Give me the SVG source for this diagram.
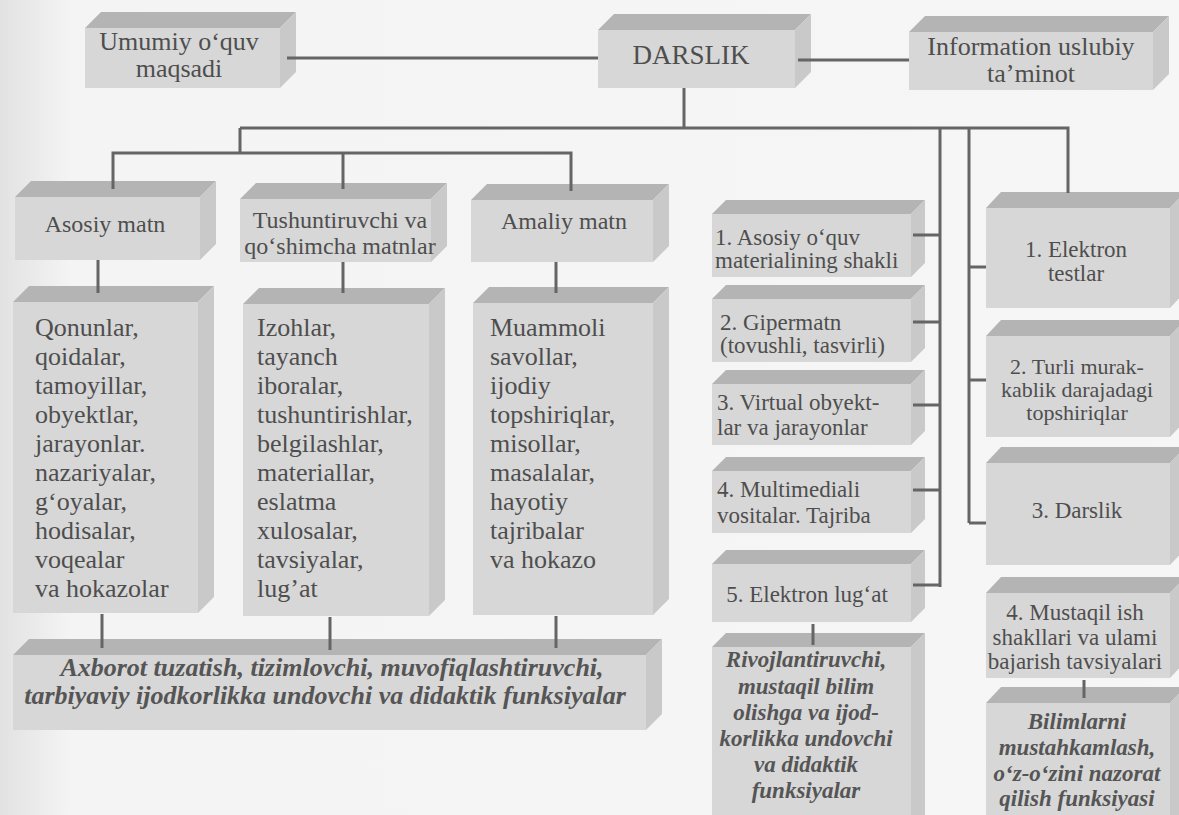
<svg xmlns="http://www.w3.org/2000/svg" width="1179" height="815" viewBox="0 0 1179 815">
<defs>
<linearGradient id="bg" x1="0" y1="0" x2="1" y2="0">
<stop offset="0" stop-color="#e2e2e2"/>
<stop offset="0.06" stop-color="#f4f4f4"/>
<stop offset="1" stop-color="#f6f6f6"/>
</linearGradient>
<style>
.front{fill:#d7d7d7}
.top{fill:#b4b4b4}
.side{fill:#c9c9c9}
.conn{stroke:#656565;stroke-width:3;fill:none;stroke-linecap:butt}
.t{fill:#4e4e4e}
.c{text-anchor:middle}
.s27{font-size:27px}
.s26{font-size:26px}
.s24{font-size:24px}
.s23{font-size:23px}
.s22{font-size:22px}
.bi{font-weight:bold;font-style:italic;fill:#555}
</style>
</defs>
<rect width="1179" height="815" fill="url(#bg)"/>

<g font-family="'Liberation Serif', 'DejaVu Serif', 'Times New Roman', serif">

<g id="umumiy">
<rect class="front" x="85" y="28" width="195" height="60"/>
<polygon class="top" points="85,28 101,12 296,12 280,28"/>
<polygon class="side" points="280,28 296,12 296,72 280,88"/>
<text class="t s26 c" x="179" y="50">Umumiy o‘quv</text>
<text class="t s26 c" x="179" y="77">maqsadi</text>
</g>

<g id="darslik">
<rect class="front" x="598" y="30" width="197" height="58"/>
<polygon class="top" points="598,30 614,14 811,14 795,30"/>
<polygon class="side" points="795,30 811,14 811,72 795,88"/>
<text class="t s27 c" x="691" y="64">DARSLIK</text>
</g>

<g id="information">
<rect class="front" x="909" y="32" width="244" height="58"/>
<polygon class="top" points="909,32 925,16 1169,16 1153,32"/>
<polygon class="side" points="1153,32 1169,16 1169,74 1153,90"/>
<text class="t s26 c" x="1031" y="55">Information uslubiy</text>
<text class="t s26 c" x="1031" y="82">ta’minot</text>
</g>

<g id="asosiy-matn">
<rect class="front" x="15" y="197" width="185" height="63"/>
<polygon class="top" points="15,197 31,181 216,181 200,197"/>
<polygon class="side" points="200,197 216,181 216,244 200,260"/>
<text class="t s24 c" x="105" y="232">Asosiy matn</text>
</g>

<g id="tushuntiruvchi">
<rect class="front" x="240" y="199" width="191" height="63"/>
<polygon class="top" points="240,199 256,183 447,183 431,199"/>
<polygon class="side" points="431,199 447,183 447,246 431,262"/>
<text class="t s24 c" x="340" y="228">Tushuntiruvchi va</text>
<text class="t s24 c" x="340" y="254">qo‘shimcha matnlar</text>
</g>

<g id="amaliy-matn">
<rect class="front" x="471" y="200" width="182" height="62"/>
<polygon class="top" points="471,200 487,184 669,184 653,200"/>
<polygon class="side" points="653,200 669,184 669,246 653,262"/>
<text class="t s24 c" x="564" y="229">Amaliy matn</text>
</g>

<g id="body-asosiy">
<rect class="front" x="13" y="302" width="185" height="311"/>
<polygon class="top" points="13,302 29,286 214,286 198,302"/>
<polygon class="side" points="198,302 214,286 214,597 198,613"/>
<text class="t s26" x="35" y="336">Qonunlar,</text>
<text class="t s26" x="35" y="365">qoidalar,</text>
<text class="t s26" x="35" y="394">tamoyillar,</text>
<text class="t s26" x="35" y="423">obyektlar,</text>
<text class="t s26" x="35" y="452">jarayonlar.</text>
<text class="t s26" x="35" y="481">nazariyalar,</text>
<text class="t s26" x="35" y="510">g‘oyalar,</text>
<text class="t s26" x="35" y="539">hodisalar,</text>
<text class="t s26" x="35" y="568">voqealar</text>
<text class="t s26" x="35" y="597">va hokazolar</text>
</g>

<g id="body-tushuntiruvchi">
<rect class="front" x="243" y="304" width="186" height="312"/>
<polygon class="top" points="243,304 259,288 445,288 429,304"/>
<polygon class="side" points="429,304 445,288 445,600 429,616"/>
<text class="t s26" x="257" y="336">Izohlar,</text>
<text class="t s26" x="257" y="365">tayanch</text>
<text class="t s26" x="257" y="394">iboralar,</text>
<text class="t s26" x="257" y="423">tushuntirishlar,</text>
<text class="t s26" x="257" y="452">belgilashlar,</text>
<text class="t s26" x="257" y="481">materiallar,</text>
<text class="t s26" x="257" y="510">eslatma</text>
<text class="t s26" x="257" y="539">xulosalar,</text>
<text class="t s26" x="257" y="568">tavsiyalar,</text>
<text class="t s26" x="257" y="597">lug’at</text>
</g>

<g id="body-amaliy">
<rect class="front" x="473" y="303" width="180" height="312"/>
<polygon class="top" points="473,303 489,287 669,287 653,303"/>
<polygon class="side" points="653,303 669,287 669,599 653,615"/>
<text class="t s26" x="490" y="336">Muammoli</text>
<text class="t s26" x="490" y="365">savollar,</text>
<text class="t s26" x="490" y="394">ijodiy</text>
<text class="t s26" x="490" y="423">topshiriqlar,</text>
<text class="t s26" x="490" y="452">misollar,</text>
<text class="t s26" x="490" y="481">masalalar,</text>
<text class="t s26" x="490" y="510">hayotiy</text>
<text class="t s26" x="490" y="539">tajribalar</text>
<text class="t s26" x="490" y="568">va hokazo</text>
</g>

<g id="axborot">
<rect class="front" x="13" y="655" width="633" height="75"/>
<polygon class="top" points="13,655 29,639 662,639 646,655"/>
<polygon class="side" points="646,655 662,639 662,714 646,730"/>
<text class="t s26 c bi" x="332" y="676">Axborot tuzatish, tizimlovchi, muvofiqlashtiruvchi,</text>
<text class="t s26 c bi" x="325" y="704">tarbiyaviy ijodkorlikka undovchi va didaktik funksiyalar</text>
</g>

<g id="l1">
<rect class="front" x="712" y="214" width="199" height="63"/>
<polygon class="top" points="712,214 726,200 925,200 911,214"/>
<polygon class="side" points="911,214 925,200 925,263 911,277"/>
<text class="t s23" x="715" y="245">1. Asosiy o‘quv</text>
<text class="t s23" x="715" y="268">materialining shakli</text>
</g>

<g id="l2">
<rect class="front" x="712" y="299" width="199" height="63"/>
<polygon class="top" points="712,299 726,285 925,285 911,299"/>
<polygon class="side" points="911,299 925,285 925,348 911,362"/>
<text class="t s23" x="720" y="330">2. Gipermatn</text>
<text class="t s23" x="720" y="353">(tovushli, tasvirli)</text>
</g>

<g id="l3">
<rect class="front" x="712" y="384" width="199" height="61"/>
<polygon class="top" points="712,384 726,370 925,370 911,384"/>
<polygon class="side" points="911,384 925,370 925,431 911,445"/>
<text class="t s23" x="717" y="410">3. Virtual obyekt-</text>
<text class="t s23" x="717" y="435">lar va jarayonlar</text>
</g>

<g id="l4">
<rect class="front" x="712" y="471" width="199" height="62"/>
<polygon class="top" points="712,471 726,457 925,457 911,471"/>
<polygon class="side" points="911,471 925,457 925,519 911,533"/>
<text class="t s23" x="717" y="497">4. Multimediali</text>
<text class="t s23" x="717" y="523">vositalar. Tajriba</text>
</g>

<g id="l5">
<rect class="front" x="712" y="564" width="199" height="58"/>
<polygon class="top" points="712,564 726,550 925,550 911,564"/>
<polygon class="side" points="911,564 925,550 925,608 911,622"/>
<text class="t s23 c" x="807" y="602">5. Elektron lug‘at</text>
</g>

<g id="l6">
<rect class="front" x="712" y="647" width="199" height="170"/>
<polygon class="top" points="712,647 726,633 925,633 911,647"/>
<polygon class="side" points="911,647 925,633 925,817 911,817"/>
<text class="t s23 c bi" x="806" y="667">Rivojlantiruvchi,</text>
<text class="t s23 c bi" x="806" y="694">mustaqil bilim</text>
<text class="t s23 c bi" x="806" y="720">olishga va ijod-</text>
<text class="t s23 c bi" x="806" y="746">korlikka undovchi</text>
<text class="t s23 c bi" x="806" y="772">va didaktik</text>
<text class="t s23 c bi" x="806" y="798">funksiyalar</text>
</g>

<g id="r1">
<rect class="front" x="986" y="208" width="184" height="100"/>
<polygon class="top" points="986,208 1001,192 1185,192 1170,208"/>
<polygon class="side" points="1170,208 1185,192 1185,292 1170,308"/>
<text class="t s23 c" x="1076" y="257">1. Elektron</text>
<text class="t s23 c" x="1076" y="281">testlar</text>
</g>

<g id="r2">
<rect class="front" x="986" y="336" width="184" height="101"/>
<polygon class="top" points="986,336 1001,320 1185,320 1170,336"/>
<polygon class="side" points="1170,336 1185,320 1185,421 1170,437"/>
<text class="t s22 c" x="1077" y="374">2. Turli murak-</text>
<text class="t s22 c" x="1077" y="397">kablik darajadagi</text>
<text class="t s22 c" x="1077" y="420">topshiriqlar</text>
</g>

<g id="r3">
<rect class="front" x="986" y="463" width="184" height="102"/>
<polygon class="top" points="986,463 1001,447 1185,447 1170,463"/>
<polygon class="side" points="1170,463 1185,447 1185,549 1170,565"/>
<text class="t s23 c" x="1077" y="518">3. Darslik</text>
</g>

<g id="r4">
<rect class="front" x="986" y="593" width="184" height="85"/>
<polygon class="top" points="986,593 1001,577 1185,577 1170,593"/>
<polygon class="side" points="1170,593 1185,577 1185,662 1170,678"/>
<text class="t s23 c" x="1075" y="620">4. Mustaqil ish</text>
<text class="t s23 c" x="1075" y="645">shakllari va ulami</text>
<text class="t s23 c" x="1075" y="669">bajarish tavsiyalari</text>
</g>

<g id="r5">
<rect class="front" x="986" y="703" width="184" height="114"/>
<polygon class="top" points="986,703 1001,687 1185,687 1170,703"/>
<polygon class="side" points="1170,703 1185,687 1185,817 1170,817"/>
<text class="t s23 c bi" x="1077" y="729">Bilimlarni</text>
<text class="t s23 c bi" x="1077" y="755">mustahkamlash,</text>
<text class="t s23 c bi" x="1077" y="781">o‘z-o‘zini nazorat</text>
<text class="t s23 c bi" x="1077" y="806">qilish funksiyasi</text>
</g>

</g>

<g id="connectors" class="conn">
<path d="M287,58 H598"/>
<path d="M798,60 H909"/>
<path d="M684,88 V128"/>
<path d="M240,128 H1068 V193"/>
<path d="M240,128 V153"/>
<path d="M113,189 V153 H571 V191"/>
<path d="M343,153 V189"/>
<path d="M98,260 V293"/>
<path d="M343,262 V293"/>
<path d="M556,262 V293"/>
<path d="M102,614 V648"/>
<path d="M330,617 V650"/>
<path d="M556,616 V648"/>
<path d="M940,128 V587"/>
<path d="M913,235 H940"/>
<path d="M913,322 H940"/>
<path d="M913,405 H940"/>
<path d="M913,490 H940"/>
<path d="M913,585 H940"/>
<path d="M969,128 V523"/>
<path d="M969,267 H986"/>
<path d="M969,380 H986"/>
<path d="M969,523 H986"/>
<path d="M813,624 V645"/>
<path d="M1084,680 V698"/>
</g>
</svg>
